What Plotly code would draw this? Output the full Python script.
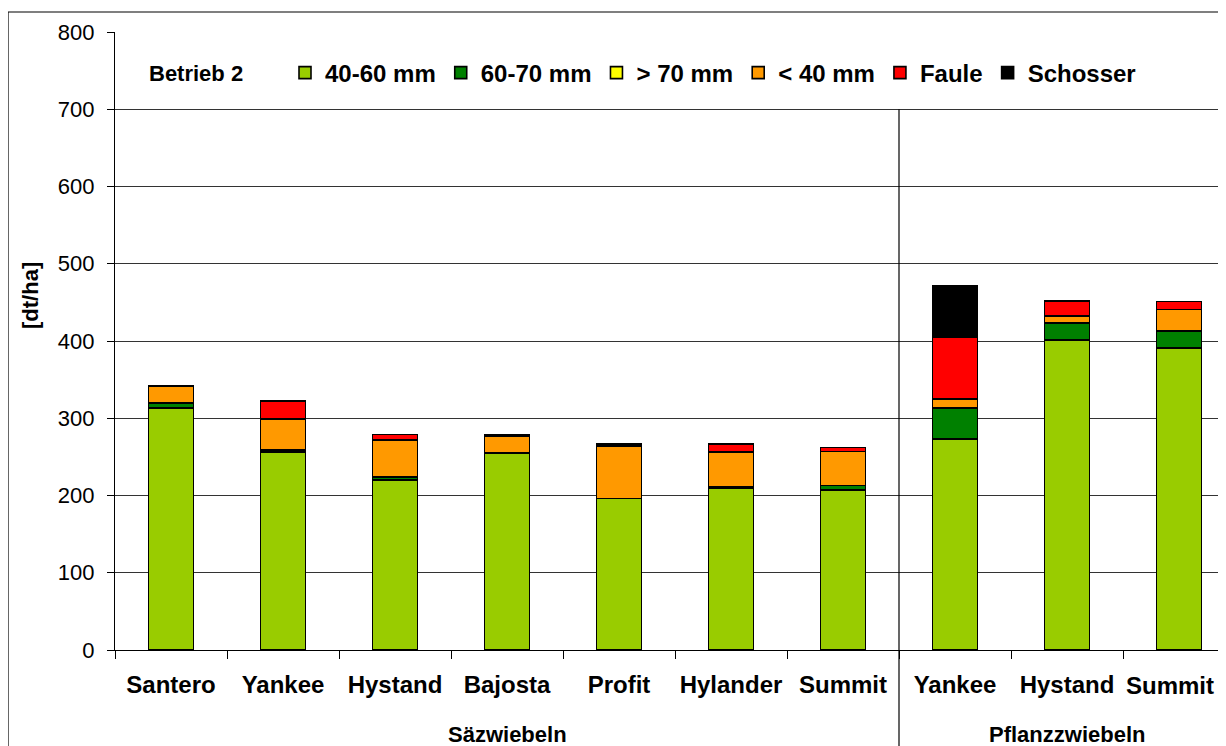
import plotly.graph_objects as go

# ---- data ----
groups = ["Säzwiebeln"] * 7 + ["Pflanzzwiebeln"] * 3
varieties = ["Santero", "Yankee", "Hystand", "Bajosta", "Profit", "Hylander", "Summit",
             "Yankee", "Hystand", "Summit"]

size_40_60 = [313, 256, 220, 255, 196, 209, 207, 273, 401, 391]
size_60_70 = [7, 3, 4, 0, 0, 2, 6, 40, 22, 22]
size_gt_70 = [0, 0, 0, 0, 0, 0, 0, 0, 0, 0]
size_lt_40 = [22, 40, 48, 22, 68, 45, 44, 12, 9, 28]
faule = [0, 23, 7, 0, 0, 11, 5, 80, 20, 10]
schosser = [0, 0, 0, 1, 3, 0, 0, 67, 0, 0]

series_names = ["40-60 mm", "60-70 mm", "> 70 mm", "< 40 mm", "Faule", "Schosser"]
series_values = [size_40_60, size_60_70, size_gt_70, size_lt_40, faule, schosser]
series_colors = ["#99CC00", "#008000", "#FFFF00", "#FF9900", "#FF0000", "#000000"]

y_ticks = [0, 100, 200, 300, 400, 500, 600, 700, 800]
title_text = "Betrieb 2"
y_title = "[dt/ha]"

FONT = "Liberation Sans, Arial, sans-serif"

# unique category keys (same variety can appear in both groups)
cat_keys = [g + " | " + v for g, v in zip(groups, varieties)]
# the last label sits at the right edge of the chart: it is drawn as an
# annotation nudged inwards so it stays fully visible
tick_labels = list(varieties[:-1]) + [""]

# ---- layout geometry (page body has an 8px margin) ----
OFF = 8
W, H = 1227, 738
ML, MR, MT, MB = 107, 0, 24, 96
plot_w = W - ML - MR
plot_h = H - MT - MB
plot_left = OFF + ML
plot_bottom = OFF + H - MB
x_lo = -0.5
x_hi = len(cat_keys) - 0.5
y_lo, y_hi = 0, 800


def px_to_paper_x(px):
    return (px - plot_left) / plot_w


def px_to_paper_y(py):
    return (plot_bottom - py) / plot_h


fig = go.Figure()
for name, vals, col in zip(series_names, series_values, series_colors):
    fig.add_trace(go.Bar(
        x=cat_keys, y=vals, name=name,
        marker=dict(color=col, line=dict(color="#000000", width=1.6)),
    ))

# divider between the two groups
n_first = groups.count("Säzwiebeln")
div_x = (n_first - 0.5 - x_lo) / (x_hi - x_lo)

shapes = [
    dict(type="line", xref="paper", yref="paper",
         x0=div_x, x1=div_x, y0=(700 - y_lo) / (y_hi - y_lo), y1=-0.25,
         line=dict(color="#000000", width=1.2)),
    dict(type="rect", xref="paper", yref="paper",
         x0=px_to_paper_x(8), x1=1.05, y0=-0.3, y1=px_to_paper_y(12),
         line=dict(color="#000000", width=1.2), fillcolor="rgba(0,0,0,0)"),
]

annotations = [
    dict(text="<b>" + title_text + "</b>", xref="paper", yref="paper",
         x=px_to_paper_x(147), y=px_to_paper_y(74), xanchor="left", yanchor="middle",
         showarrow=False, font=dict(family=FONT, size=22, color="#000000")),
    dict(text="<b>" + y_title + "</b>", xref="paper", yref="paper",
         x=px_to_paper_x(30), y=px_to_paper_y(296), xanchor="center", yanchor="middle",
         textangle=-90, showarrow=False, font=dict(family=FONT, size=22, color="#000000")),
    dict(text="<b>" + varieties[-1] + "</b>", xref="x", yref="paper",
         x=cat_keys[-1], xshift=-9, y=px_to_paper_y(685), xanchor="center", yanchor="middle",
         showarrow=False, font=dict(family=FONT, size=24, color="#000000")),
]
# group labels under the category labels
for gname in dict.fromkeys(groups):
    idxs = [i for i, g in enumerate(groups) if g == gname]
    annotations.append(dict(
        text="<b>" + gname + "</b>", xref="x", yref="paper",
        x=sum(idxs) / len(idxs), y=px_to_paper_y(734), xanchor="center", yanchor="middle",
        showarrow=False, font=dict(family=FONT, size=22, color="#000000")))

fig.update_layout(
    width=W, height=H,
    margin=dict(l=ML, r=MR, t=MT, b=MB, pad=0, autoexpand=False),
    barmode="stack", bargap=0.6,
    plot_bgcolor="#FFFFFF", paper_bgcolor="#FFFFFF",
    font=dict(family=FONT, color="#000000"),
    showlegend=True,
    legend=dict(orientation="h", x=px_to_paper_x(285), y=px_to_paper_y(73),
                xanchor="left", yanchor="middle",
                font=dict(family=FONT, size=24, color="#000000", weight="bold"),
                bgcolor="rgba(0,0,0,0)", traceorder="normal"),
    shapes=shapes,
    annotations=annotations,
)

fig.update_xaxes(
    type="category", range=[x_lo, x_hi],
    tickmode="array", tickvals=cat_keys, ticktext=tick_labels, tickson="boundaries",
    showline=True, linecolor="#000000", linewidth=1.2,
    ticks="outside", ticklen=8, tickcolor="#000000", tickwidth=1,
    tickfont=dict(family=FONT, size=24, color="#000000", weight="bold"),
    showgrid=False, ticklabelstandoff=13, automargin=False,
)
fig.update_yaxes(
    range=[y_lo, y_hi], tickvals=y_ticks,
    showline=True, linecolor="#000000", linewidth=1.2,
    ticks="outside", ticklen=7, tickcolor="#000000",
    tickfont=dict(family=FONT, size=22, color="#000000"),
    showgrid=True, gridcolor="#333333", gridwidth=1,
    zeroline=False, ticklabelstandoff=8, automargin=False,
)

fig.write_html("out.html")
